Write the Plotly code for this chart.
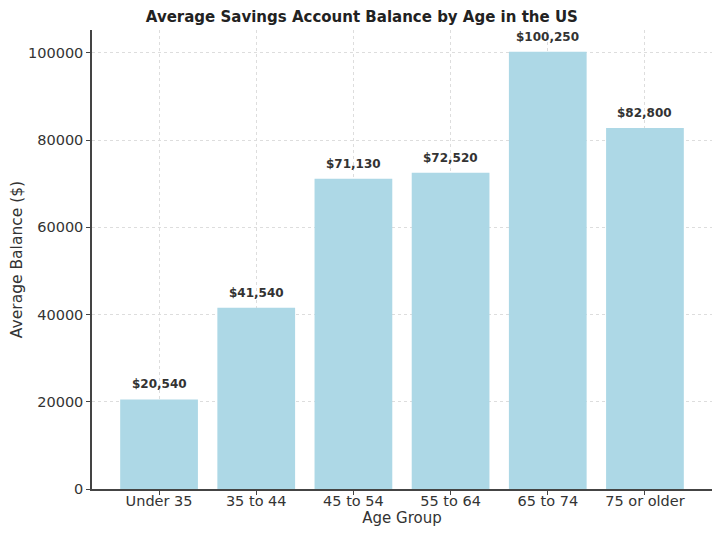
import plotly.graph_objects as go

categories = ["Under 35", "35 to 44", "45 to 54", "55 to 64", "65 to 74", "75 or older"]
balances = [20540, 41540, 71130, 72520, 100250, 82800]
value_labels = ["$20,540", "$41,540", "$71,130", "$72,520", "$100,250", "$82,800"]

FONT = "DejaVu Sans"
TXT = "#333333"

fig = go.Figure()
fig.add_trace(go.Bar(
    x=list(range(len(categories))),
    y=balances,
    width=0.8,
    marker=dict(color="#ADD8E6", line=dict(width=0)),
    hoverinfo="skip",
))

for i, (v, lab) in enumerate(zip(balances, value_labels)):
    fig.add_annotation(
        x=i, y=v, text="<b>" + lab + "</b>", showarrow=False,
        yanchor="bottom", yshift=6,
        font=dict(family=FONT, size=12, color=TXT),
    )

fig.update_layout(
    width=712, height=530,
    margin=dict(l=84, r=8, t=22, b=49),
    paper_bgcolor="white", plot_bgcolor="white",
    font=dict(family=FONT, size=14.5, color=TXT),
    showlegend=False,
    title=dict(
        text="<b>Average Savings Account Balance by Age in the US</b>",
        x=0.497, xanchor="center", y=1 - 9 / 530, yanchor="middle",
        font=dict(family=FONT, size=15, color="#222222"),
    ),
    bargap=0.2,
)

fig.update_xaxes(
    tickmode="array", tickvals=list(range(len(categories))), ticktext=categories,
    range=[-0.69, 5.69],
    showline=True, linecolor="#444444", linewidth=1.5,
    ticks="outside", ticklen=4, tickcolor="#444444",
    showgrid=True, gridcolor="#dddddd", griddash="dot", gridwidth=1,
    zeroline=False, automargin=False,
    ticklabelstandoff=-6,
    title=dict(text="Age Group", font=dict(family=FONT, size=15, color=TXT), standoff=2),
    tickfont=dict(family=FONT, size=14.5, color=TXT),
    layer="above traces",
)
fig.update_yaxes(
    range=[0, 105262.5],
    tickvals=[0, 20000, 40000, 60000, 80000, 100000],
    ticktext=["0", "20000", "40000", "60000", "80000", "100000"],
    showline=True, linecolor="#444444", linewidth=1.5,
    ticks="outside", ticklen=4, tickcolor="#444444",
    showgrid=True, gridcolor="#dddddd", griddash="dot", gridwidth=1,
    zeroline=False, automargin=False,
    title=dict(text="Average Balance ($)", font=dict(family=FONT, size=15.5, color=TXT), standoff=11),
    tickfont=dict(family=FONT, size=14.5, color=TXT),
    layer="above traces",
)

fig.write_html("out.html")
